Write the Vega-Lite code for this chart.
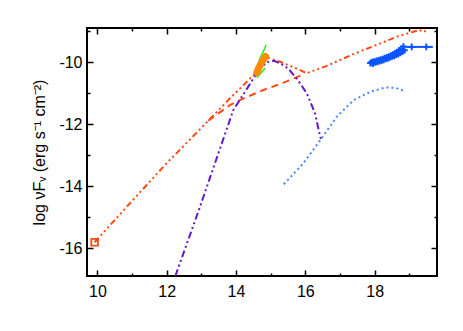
{
  "$schema": "https://vega.github.io/schema/vega-lite/v6.json",
  "width": 350,
  "height": 248,
  "autosize": "none",
  "padding": {"left": 87, "top": 28, "right": 26, "bottom": 55},
  "config": {
    "view": {"stroke": "black", "strokeWidth": 2},
    "axis": {"grid": false, "domain": false, "labelFont": "Liberation Sans", "labelFontSize": 16, "labelColor": "black", "tickColor": "black", "tickWidth": 1.5, "titleFont": "Liberation Sans", "titleFontSize": 16, "titleFontWeight": "normal", "titleColor": "black"}
  },
  "datasets": {
    "lines": [
      {"s": "total", "o": 1, "x": 9.92, "y": -15.81},
      {"s": "total", "o": 2, "x": 11.0, "y": -14.48},
      {"s": "total", "o": 3, "x": 12.0, "y": -13.26},
      {"s": "total", "o": 4, "x": 13.0, "y": -12.12},
      {"s": "total", "o": 5, "x": 13.8, "y": -11.2},
      {"s": "total", "o": 6, "x": 14.16, "y": -10.8},
      {"s": "total", "o": 7, "x": 14.55, "y": -10.37},
      {"s": "total", "o": 8, "x": 14.75, "y": -10.0},
      {"s": "total", "o": 9, "x": 14.9, "y": -9.85},
      {"s": "total", "o": 10, "x": 15.1, "y": -9.93},
      {"s": "total", "o": 11, "x": 15.27, "y": -9.99},
      {"s": "total", "o": 12, "x": 15.6, "y": -10.14},
      {"s": "total", "o": 13, "x": 15.85, "y": -10.26},
      {"s": "total", "o": 14, "x": 16.04, "y": -10.36},
      {"s": "total", "o": 15, "x": 16.6, "y": -10.13},
      {"s": "total", "o": 16, "x": 17.39, "y": -9.74},
      {"s": "total", "o": 17, "x": 18.0, "y": -9.47},
      {"s": "total", "o": 18, "x": 18.64, "y": -9.18},
      {"s": "total", "o": 19, "x": 19.12, "y": -9.02},
      {"s": "total", "o": 20, "x": 19.3, "y": -8.96},
      {"s": "total", "o": 21, "x": 19.4, "y": -9.03},
      {"s": "total", "o": 22, "x": 19.5, "y": -8.97},
      {"s": "dashed", "o": 1, "x": 13.2, "y": -11.89},
      {"s": "dashed", "o": 2, "x": 13.82, "y": -11.39},
      {"s": "dashed", "o": 3, "x": 14.16, "y": -11.2},
      {"s": "dashed", "o": 4, "x": 14.79, "y": -10.9},
      {"s": "dashed", "o": 5, "x": 15.36, "y": -10.67},
      {"s": "dashed", "o": 6, "x": 15.56, "y": -10.58},
      {"s": "dashed", "o": 7, "x": 15.99, "y": -10.37},
      {"s": "purple", "o": 1, "x": 12.25, "y": -16.9},
      {"s": "purple", "o": 2, "x": 12.96, "y": -14.67},
      {"s": "purple", "o": 3, "x": 13.92, "y": -11.55},
      {"s": "purple", "o": 4, "x": 14.35, "y": -10.8},
      {"s": "purple", "o": 5, "x": 14.6, "y": -10.35},
      {"s": "purple", "o": 6, "x": 14.88, "y": -10.0},
      {"s": "purple", "o": 7, "x": 15.1, "y": -9.96},
      {"s": "purple", "o": 8, "x": 15.27, "y": -10.04},
      {"s": "purple", "o": 9, "x": 15.5, "y": -10.2},
      {"s": "purple", "o": 10, "x": 15.75, "y": -10.53},
      {"s": "purple", "o": 11, "x": 16.04, "y": -11.0},
      {"s": "purple", "o": 12, "x": 16.28, "y": -11.65},
      {"s": "purple", "o": 13, "x": 16.43, "y": -12.41},
      {"s": "purple", "o": 14, "x": 16.46, "y": -12.5},
      {"s": "bluedot", "o": 1, "x": 15.38, "y": -13.94},
      {"s": "bluedot", "o": 2, "x": 15.94, "y": -13.27},
      {"s": "bluedot", "o": 3, "x": 16.43, "y": -12.52},
      {"s": "bluedot", "o": 4, "x": 16.91, "y": -11.76},
      {"s": "bluedot", "o": 5, "x": 17.39, "y": -11.23},
      {"s": "bluedot", "o": 6, "x": 17.87, "y": -10.96},
      {"s": "bluedot", "o": 7, "x": 18.3, "y": -10.82},
      {"s": "bluedot", "o": 8, "x": 18.6, "y": -10.83},
      {"s": "bluedot", "o": 9, "x": 18.83, "y": -10.92}
    ],
    "green": [
      {"g": "a", "o": 1, "x": 14.54, "y": -10.4},
      {"g": "a", "o": 2, "x": 14.59, "y": -10.22},
      {"g": "a", "o": 3, "x": 14.64, "y": -10.06},
      {"g": "a", "o": 4, "x": 14.7, "y": -9.86},
      {"g": "a", "o": 5, "x": 14.78, "y": -9.68},
      {"g": "a", "o": 6, "x": 14.87, "y": -9.45},
      {"g": "b", "o": 1, "x": 14.6, "y": -10.5},
      {"g": "b", "o": 2, "x": 14.68, "y": -10.4},
      {"g": "b", "o": 3, "x": 14.76, "y": -10.3},
      {"g": "b", "o": 4, "x": 14.84, "y": -10.2}
    ],
    "blob": [
      {"o": 1, "x": 14.6, "y": -10.34},
      {"o": 2, "x": 14.65, "y": -10.2},
      {"o": 3, "x": 14.72, "y": -10.05},
      {"o": 4, "x": 14.79, "y": -9.92},
      {"o": 5, "x": 14.85, "y": -9.82}
    ],
    "xray": [
      {"x": 17.88, "y": -10.03}, {"x": 17.92, "y": -10.0}, {"x": 17.95, "y": -10.05}, {"x": 17.98, "y": -9.98},
      {"x": 18.02, "y": -10.01}, {"x": 18.05, "y": -9.96}, {"x": 18.08, "y": -9.99}, {"x": 18.11, "y": -9.94},
      {"x": 18.14, "y": -9.97}, {"x": 18.17, "y": -9.92}, {"x": 18.2, "y": -9.95}, {"x": 18.23, "y": -9.9},
      {"x": 18.26, "y": -9.93}, {"x": 18.29, "y": -9.87}, {"x": 18.32, "y": -9.9}, {"x": 18.35, "y": -9.85},
      {"x": 18.38, "y": -9.88}, {"x": 18.41, "y": -9.82}, {"x": 18.44, "y": -9.85}, {"x": 18.47, "y": -9.79},
      {"x": 18.5, "y": -9.82}, {"x": 18.53, "y": -9.76}, {"x": 18.56, "y": -9.8}, {"x": 18.59, "y": -9.72},
      {"x": 18.62, "y": -9.77}, {"x": 18.65, "y": -9.68}, {"x": 18.68, "y": -9.74}, {"x": 18.71, "y": -9.62},
      {"x": 18.74, "y": -9.7}, {"x": 18.77, "y": -9.58}, {"x": 18.8, "y": -9.66}, {"x": 18.83, "y": -9.5},
      {"x": 18.86, "y": -9.62}, {"x": 19.07, "y": -9.51}, {"x": 19.49, "y": -9.51}
    ],
    "xbar": [
      {"x": 18.9, "x2": 19.68, "y": -9.51}
    ],
    "radio": [
      {"x": 9.92, "y": -15.81}
    ]
  },
  "resolve": {"axis": {"x": "independent", "y": "independent"}},
  "layer": [
    {
      "data": {"name": "lines"},
      "mark": {"type": "line", "strokeWidth": 2, "clip": true},
      "encoding": {
        "x": {"field": "x", "type": "quantitative", "scale": {"domain": [9.7, 19.8], "nice": false, "zero": false},
              "axis": {"orient": "bottom", "values": [10, 12, 14, 16, 18], "tickSize": -6, "labelPadding": 13, "labelExpr": "'' + datum.value", "title": null}},
        "y": {"field": "y", "type": "quantitative", "scale": {"domain": [-16.9, -8.9], "nice": false, "zero": false},
              "axis": {"orient": "left", "values": [-16, -14, -12, -10], "tickSize": -6, "labelPadding": 11, "labelExpr": "'' + datum.value", "title": "log νFᵥ (erg s⁻¹ cm⁻²)", "titlePadding": 11}},
        "color": {"field": "s", "type": "nominal", "legend": null,
                  "scale": {"domain": ["total", "dashed", "purple", "bluedot"], "range": ["#FF4A14", "#FF4A14", "#6419C8", "#4A84FF"]}},
        "strokeDash": {"field": "s", "type": "nominal", "legend": null,
                  "scale": {"domain": ["total", "dashed", "purple", "bluedot"], "range": [[6, 3, 2, 3, 2, 3, 2, 3], [7, 5], [7, 3, 2, 3, 2, 3], [2, 3]]}},
        "order": {"field": "o", "type": "quantitative"}
      }
    },
    {
      "data": {"name": "green"},
      "mark": {"type": "line", "strokeWidth": 1.6, "color": "#33EE22", "clip": true},
      "encoding": {
        "x": {"field": "x", "type": "quantitative", "scale": {"domain": [9.7, 19.8], "nice": false, "zero": false},
              "axis": {"orient": "top", "values": [10, 12, 14, 16, 18], "tickSize": -6, "labels": false, "title": null}},
        "y": {"field": "y", "type": "quantitative", "scale": {"domain": [-16.9, -8.9], "nice": false, "zero": false},
              "axis": {"orient": "right", "values": [-16, -14, -12, -10], "tickSize": -6, "labels": false, "title": null}},
        "detail": {"field": "g", "type": "nominal"},
        "order": {"field": "o", "type": "quantitative"}
      }
    },
    {
      "data": {"name": "blob"},
      "mark": {"type": "line", "strokeWidth": 7, "strokeCap": "round", "color": "#FF8C00", "clip": true},
      "encoding": {
        "x": {"field": "x", "type": "quantitative", "scale": {"domain": [9.7, 19.8], "nice": false, "zero": false},
              "axis": {"orient": "bottom", "values": [11, 13, 15, 17, 19], "tickSize": -3, "labels": false, "title": null}},
        "y": {"field": "y", "type": "quantitative", "scale": {"domain": [-16.9, -8.9], "nice": false, "zero": false},
              "axis": {"orient": "left", "values": [-15, -13, -11, -9], "tickSize": -3, "labels": false, "title": null}},
        "order": {"field": "o", "type": "quantitative"}
      }
    },
    {
      "data": {"name": "xray"},
      "mark": {"type": "point", "shape": "M-1,0H1M0,-1V1", "filled": false, "strokeWidth": 2, "size": 45, "color": "#0A55FF", "opacity": 1, "clip": true},
      "encoding": {
        "x": {"field": "x", "type": "quantitative", "scale": {"domain": [9.7, 19.8], "nice": false, "zero": false},
              "axis": {"orient": "top", "values": [11, 13, 15, 17, 19], "tickSize": -3, "labels": false, "title": null}},
        "y": {"field": "y", "type": "quantitative", "scale": {"domain": [-16.9, -8.9], "nice": false, "zero": false},
              "axis": {"orient": "right", "values": [-15, -13, -11, -9], "tickSize": -3, "labels": false, "title": null}}
      }
    },
    {
      "data": {"name": "xbar"},
      "mark": {"type": "rule", "strokeWidth": 2, "color": "#0A55FF", "clip": true},
      "encoding": {
        "x": {"field": "x", "type": "quantitative", "axis": null},
        "x2": {"field": "x2"},
        "y": {"field": "y", "type": "quantitative", "axis": null}
      }
    },
    {
      "data": {"name": "radio"},
      "mark": {"type": "point", "shape": "square", "filled": false, "strokeWidth": 1.8, "size": 45, "color": "#FF4A14", "opacity": 1},
      "encoding": {
        "x": {"field": "x", "type": "quantitative", "axis": null},
        "y": {"field": "y", "type": "quantitative", "axis": null}
      }
    }
  ]
}
